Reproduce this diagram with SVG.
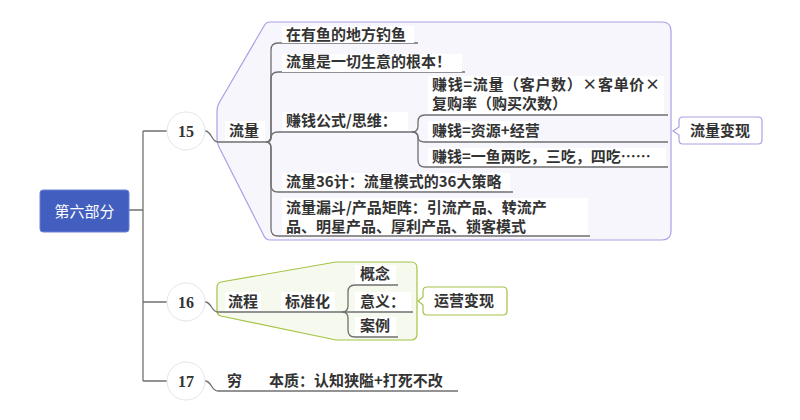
<svg xmlns="http://www.w3.org/2000/svg" width="800" height="420" viewBox="0 0 800 420">
<style>
.t{font-family:"Noto Sans CJK SC","Liberation Sans",sans-serif;font-size:15px;font-weight:bold;fill:#333}
.n{font-family:"Liberation Serif","Noto Sans CJK SC",serif;font-size:16px;font-weight:bold;fill:#333;text-anchor:middle}
.c{fill:none;stroke:#707070;stroke-width:1.3}
.bg{fill:#fff}
.circ{fill:#fff;stroke:#e4e4ec;stroke-width:1}
</style>
<rect width="800" height="420" fill="#fff"/>
<g id="region15">
<path d="M270,22 L662,22 Q671,22 671,31 L671,231 Q671,240 662,240 L270,240 Q266,240 264,236 L219,147 Q217,143 217,139 L217,111 Q217,107 219,103 L264,26 Q266,22 270,22 Z" fill="#f7f6fc" stroke="#ad9fe6" stroke-width="1.2"/>
</g>
<g id="region16">
<path d="M217,287 Q217,283 221,282 L336,262 L411,262 Q417,262 417,268 L417,334 Q417,340 411,340 L336,340 L221,316 Q217,315 217,311 Z" fill="#f6faee" stroke="#a3c447" stroke-width="1.2"/>
</g>
<g id="connectors">
<path class="c" d="M129,210 L143,210 M143,131 L143,381 M143,131 L167,131 M143,302 L167,302 M143,381 L167,381"/>
<path class="c" d="M205,131 C212,131 211,142 218,142 L266,142"/>
<path class="c" d="M266,142 Q271,142 271,136 L271,50 Q271,43 278,43 L418,43"/>
<path class="c" d="M266,142 Q271,142 271,136 L271,79 Q271,72 278,72 L465,72"/>
<path class="c" d="M266,142 Q271,142 271,138 Q271,132 278,132 L412,132"/>
<path class="c" d="M266,142 Q271,142 271,148 L271,185 Q271,192 278,192 L513,192"/>
<path class="c" d="M266,142 Q271,142 271,148 L271,229 Q271,236 278,236 L590,236"/>
<path class="c" d="M412,132 Q418,132 418,126 L418,122 Q418,115 425,115 L668,115"/>
<path class="c" d="M412,132 Q418,132 418,137 Q418,142 425,142 L668,142"/>
<path class="c" d="M412,132 Q418,132 418,138 L418,160 Q418,167 425,167 L668,167"/>
<path class="c" d="M205,302 C212,302 211,312 218,312 L342,312"/>
<path class="c" d="M342,312 Q348,312 348,306 L348,292 Q348,285 355,285 L398,285"/>
<path class="c" d="M342,312 L413,312"/>
<path class="c" d="M342,312 Q348,312 348,318 L348,330 Q348,337 355,337 L398,337"/>
<path class="c" d="M205,381 C212,381 211,391 218,391 L458,391"/>
</g>
<g id="root">
<rect x="40" y="190" width="89" height="42" rx="3" fill="#425ebf" stroke="#6a82d6" stroke-width="1"/>
<text x="84.5" y="217" text-anchor="middle" style="font-family:'Noto Sans CJK SC','Liberation Sans',sans-serif;font-size:15px;fill:#fff">第六部分</text>
</g>
<g id="n15">
<circle class="circ" cx="186" cy="131" r="19"/>
<text class="n" x="186" y="137">15</text>
</g>
<g id="n16">
<circle class="circ" cx="186" cy="302" r="19"/>
<text class="n" x="186" y="308">16</text>
</g>
<g id="n17">
<circle class="circ" cx="186" cy="381" r="19"/>
<text class="n" x="186" y="387">17</text>
</g>
<g id="liuliang">
<rect class="bg" x="225" y="121" width="40" height="20"/>
<text class="t" x="229" y="136">流量</text>
</g>
<g id="c1">
<rect class="bg" x="282" y="26" width="132" height="17"/>
<text class="t" x="286" y="40">在有鱼的地方钓鱼</text>
</g>
<g id="c2">
<rect class="bg" x="282" y="54" width="180" height="18"/>
<text class="t" x="286" y="67">流量是一切生意的根本！</text>
</g>
<g id="c3">
<rect class="bg" x="282" y="112" width="126" height="19"/>
<text class="t" x="286" y="126">赚钱公式/思维：</text>
</g>
<g id="c3a">
<rect class="bg" x="428" y="76" width="236" height="38"/>
<text class="t" x="432" y="90" textLength="228" lengthAdjust="spacing">赚钱=流量（客户数）×客单价×</text>
<text class="t" x="432" y="109">复购率（购买次数）</text>
</g>
<g id="c3b">
<rect class="bg" x="428" y="121" width="106" height="20"/>
<text class="t" x="432" y="136">赚钱=资源+经营</text>
</g>
<g id="c3c">
<rect class="bg" x="428" y="148" width="238" height="18"/>
<text class="t" x="432" y="162">赚钱=一鱼两吃，三吃，四吃……</text>
</g>
<g id="c4">
<rect class="bg" x="282" y="173" width="228" height="18"/>
<text class="t" x="286" y="187">流量36计：流量模式的36大策略</text>
</g>
<g id="c5">
<rect class="bg" x="282" y="198" width="306" height="37"/>
<text class="t" x="286" y="213">流量漏斗/产品矩阵：引流产品、转流产</text>
<text class="t" x="286" y="232">品、明星产品、厚利产品、锁客模式</text>
</g>
<g id="callout15">
<path d="M683,117 L758,117 Q762,117 762,121 L762,140 Q762,144 758,144 L683,144 Q679,144 679,140 L679,135 L673,131 L679,127 L679,121 Q679,117 683,117 Z" fill="#fff" stroke="#ad9fe6" stroke-width="1.2"/>
<text class="t" x="690" y="136">流量变现</text>
</g>
<g id="liucheng">
<rect class="bg" x="225" y="292" width="36" height="19"/>
<text class="t" x="228" y="307">流程</text>
<rect class="bg" x="281" y="292" width="54" height="19"/>
<text class="t" x="285" y="307">标准化</text>
</g>
<g id="d1">
<rect class="bg" x="355" y="265" width="41" height="19"/>
<text class="t" x="360" y="279">概念</text>
</g>
<g id="d2">
<rect class="bg" x="355" y="292" width="56" height="19"/>
<text class="t" x="360" y="307">意义：</text>
</g>
<g id="d3">
<rect class="bg" x="355" y="317" width="41" height="19"/>
<text class="t" x="360" y="331">案例</text>
</g>
<g id="callout16">
<path d="M427,287 L503,287 Q507,287 507,291 L507,311 Q507,315 503,315 L427,315 Q423,315 423,311 L423,305 L418,301 L423,297 L423,291 Q423,287 427,287 Z" fill="#fff" stroke="#a3c447" stroke-width="1.2"/>
<text class="t" x="434" y="306">运营变现</text>
</g>
<g id="c17">
<text class="t" x="227" y="386">穷</text>
<text class="t" x="269" y="386">本质：认知狭隘+打死不改</text>
</g>
</svg>
